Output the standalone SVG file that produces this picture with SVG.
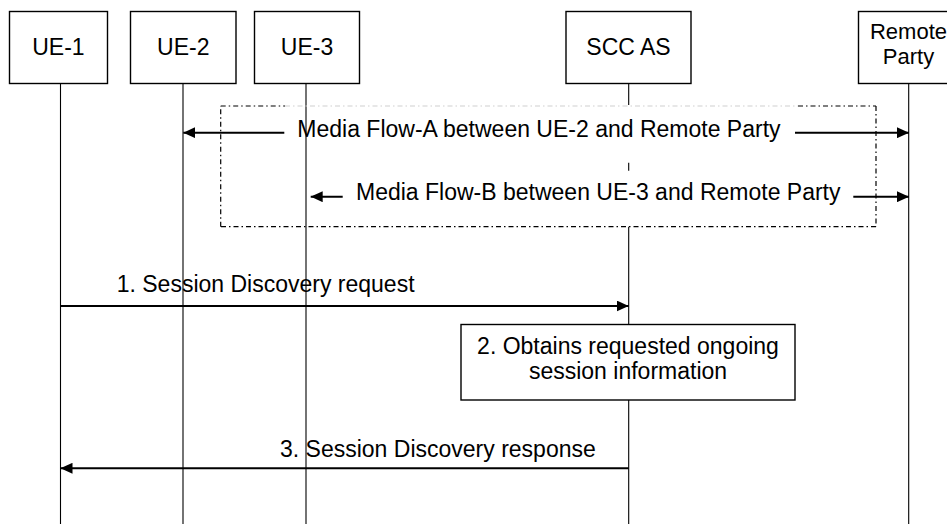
<svg xmlns="http://www.w3.org/2000/svg" width="947" height="524" viewBox="0 0 947 524">
<defs>
<style>
text{font-family:"Liberation Sans",Arial,sans-serif;font-size:23px;fill:#000}
.box{fill:#fff;stroke:#000;stroke-width:1.4}
.life{stroke:#000;stroke-width:1.1;fill:none}
.arr{stroke:#000;stroke-width:2;fill:none}
.dd{stroke:#000;stroke-width:1.2;fill:none;stroke-dasharray:5 3 1.5 3}
.mid{text-anchor:middle}
.sm{font-size:22px}
</style>
<marker id="ah" viewBox="0 0 12 11" refX="12" refY="5.5" markerWidth="12" markerHeight="11" markerUnits="userSpaceOnUse" orient="auto">
<path d="M0,0 L12,5.5 L0,11 Z" fill="#000"/>
</marker>
</defs>
<rect width="947" height="524" fill="#fff"/>
<g id="lifelines">
<line class="life" x1="60.5" y1="83" x2="60.5" y2="524"/>
<line class="life" x1="183" y1="83" x2="183" y2="524"/>
<line class="life" x1="306" y1="80" x2="306" y2="524"/>
<line class="life" x1="628.7" y1="83" x2="628.7" y2="105"/>
<line class="life" x1="628.7" y1="162.7" x2="628.7" y2="170.7"/>
<line class="life" x1="628.7" y1="226.7" x2="628.7" y2="524"/>
<line class="life" x1="908.7" y1="83" x2="908.7" y2="524"/>
</g>
<g id="UE-1"><rect class="box" x="9.5" y="11.5" width="98" height="72"/><text class="mid" x="58.4" y="55">UE-1</text></g>
<g id="UE-2"><rect class="box" x="130.5" y="11.5" width="105.5" height="72"/><text class="mid" x="183.3" y="55">UE-2</text></g>
<g id="UE-3"><rect class="box" x="254.5" y="11.5" width="105" height="72"/><text class="mid" x="307" y="55">UE-3</text></g>
<g id="SCC-AS"><rect class="box" x="566" y="11.5" width="125" height="72"/><text class="mid" x="628.5" y="55">SCC AS</text></g>
<g id="Remote-Party"><rect class="box" x="858.5" y="11.5" width="100" height="72"/><text class="mid sm" x="908.5" y="39">Remote</text><text class="mid sm" x="908.5" y="64">Party</text></g>
<g id="media-region">
<line class="dd" x1="220.7" y1="106" x2="285" y2="106"/>
<line class="dd" x1="285" y1="106" x2="798" y2="106" style="stroke:#d0d0d0"/>
<line class="dd" x1="798" y1="106" x2="876" y2="106"/>
<line class="dd" x1="876" y1="106" x2="876" y2="226.7"/>
<line class="dd" x1="876" y1="226.7" x2="220.7" y2="226.7"/>
<line class="dd" x1="220.7" y1="226.7" x2="220.7" y2="106"/>
</g>
<g id="step2"><rect class="box" x="461" y="324.5" width="334" height="75.5"/><text class="mid" x="628" y="354">2. Obtains requested ongoing</text><text class="mid" x="628" y="379">session information</text></g>
<g id="connectors">
<line class="arr" x1="284.3" y1="132.7" x2="183.3" y2="132.7" marker-end="url(#ah)"/>
<line class="arr" x1="795" y1="132.7" x2="909" y2="132.7" marker-end="url(#ah)"/>
<text x="297.3" y="137">Media Flow-A between UE-2 and Remote Party</text>
<line class="arr" x1="342.7" y1="196.7" x2="310.7" y2="196.7" marker-end="url(#ah)"/>
<line class="arr" x1="853.3" y1="196.7" x2="909" y2="196.7" marker-end="url(#ah)"/>
<text x="356" y="200">Media Flow-B between UE-3 and Remote Party</text>
<line class="arr" x1="60.5" y1="306" x2="628.7" y2="306" marker-end="url(#ah)"/>
<text x="116.7" y="292">1. Session Discovery request</text>
<line class="arr" x1="628.7" y1="468.3" x2="60.5" y2="468.3" marker-end="url(#ah)"/>
<text x="280" y="456.7">3. Session Discovery response</text>
</g>
</svg>
